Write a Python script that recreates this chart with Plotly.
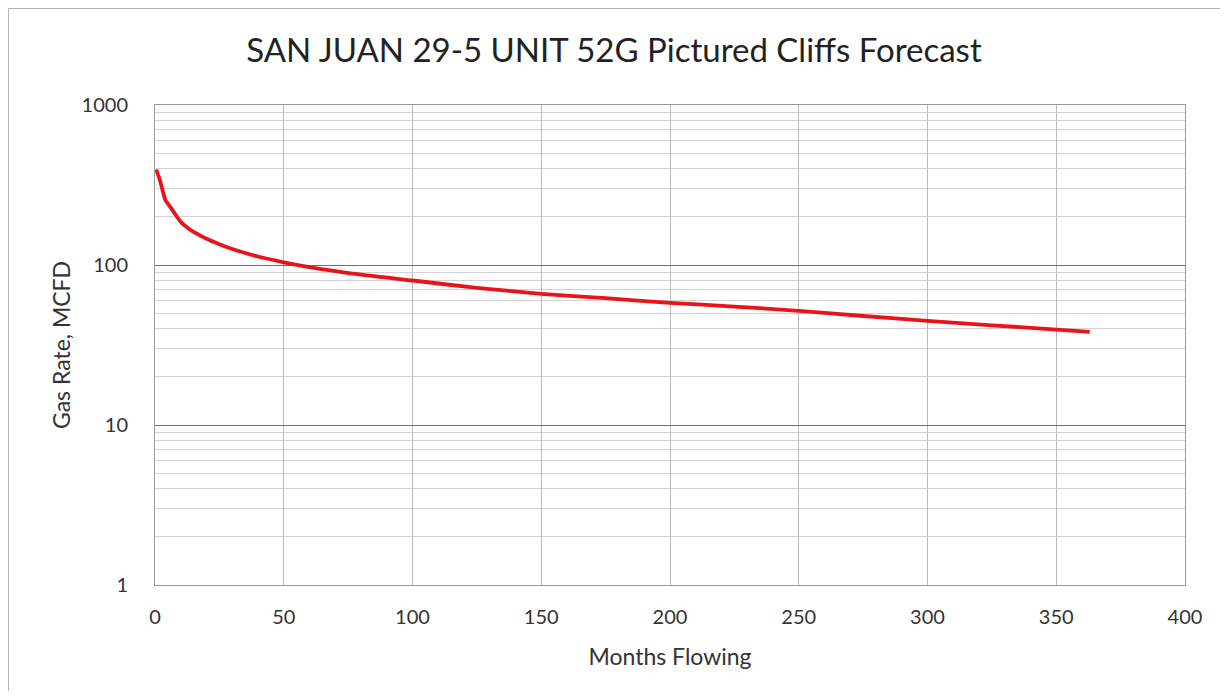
import plotly.graph_objects as go

months = [0.5, 2, 3, 4, 5, 6, 8, 10, 12, 15, 20, 25, 30, 40, 50, 60, 80, 100,
          125, 150, 175, 200, 225, 250, 275, 300, 325, 350, 363]
gas_rate = [395, 335, 290, 255, 242, 230, 206, 186, 174, 161, 146, 135, 126,
            113, 104, 97, 87, 80, 72, 66, 62, 58, 55, 51.7, 48, 44.8, 42, 39.5, 38.2]

x_ticks = [0, 50, 100, 150, 200, 250, 300, 350, 400]
y_ticks = [1, 10, 100, 1000]

title_text = "SAN JUAN 29-5 UNIT 52G Pictured Cliffs Forecast"
x_title = "Months Flowing"
y_title = "Gas Rate, MCFD"

FONT = "Lato"
W, H = 1212, 683
L, R, T, B = 147, 35, 97, 106
PW, PH = W - L - R, H - T - B

fig = go.Figure()
fig.add_trace(go.Scatter(x=months, y=gas_rate, mode="lines",
                         line=dict(color="#e8141c", width=3.8, shape="spline", smoothing=0.6),
                         showlegend=False, hoverinfo="x+y"))

fig.update_layout(
    width=W, height=H,
    paper_bgcolor="white", plot_bgcolor="white",
    margin=dict(l=L, r=R, t=T, b=B),
    title=dict(text=title_text, x=0.5, xanchor="center", y=1 - 42 / H, yanchor="middle",
               font=dict(family=FONT, size=33, color="#222222")),
    font=dict(family=FONT, color="#333333"),
    xaxis=dict(range=[0, 400], tickvals=x_ticks, ticktext=[str(v) for v in x_ticks],
               showgrid=True, gridcolor="#b8b8b8", gridwidth=1,
               showline=True, linecolor="#9a9a9a", linewidth=1, mirror=True,
               ticks="", ticklabelstandoff=14, tickfont=dict(size=20, color="#333333"),
               title=dict(text=x_title, font=dict(size=23, color="#333333"), standoff=21),
               zeroline=False),
    yaxis=dict(type="log", range=[0, 3], tickvals=y_ticks, ticktext=[str(v) for v in y_ticks],
               showgrid=True, gridcolor="#707070", gridwidth=1,
               minor=dict(showgrid=True, gridcolor="#d2d2d2", gridwidth=1, dtick="D1"),
               showline=True, linecolor="#9a9a9a", linewidth=1, mirror=True,
               ticks="", ticklabelstandoff=22, tickfont=dict(size=20, color="#333333"),
               title=dict(text=y_title, font=dict(size=23, color="#333333"), standoff=4),
               zeroline=False),
)

# outer chart frame (left and top edges visible)
fig.add_shape(type="rect", xref="paper", yref="paper",
              x0=-(L - 0.5) / PW, x1=1 + (R + 20) / PW,
              y0=-(B + 20) / PH, y1=1 + (T - 0.5) / PH,
              line=dict(color="#b0b0b0", width=1), fillcolor="rgba(0,0,0,0)", layer="below")

fig.write_html("out.html")
